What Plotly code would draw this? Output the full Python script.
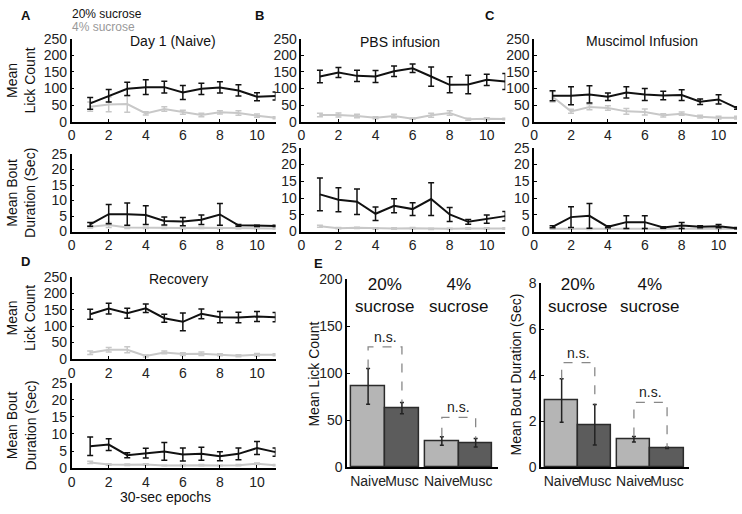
import plotly.graph_objects as go

W, H = 742, 514

epochs = [1, 2, 3, 4, 5, 6, 7, 8, 9, 10, 11]

# A: Day 1 (Naive)
naive_lick_20 = [55, 78, 99, 104, 104, 88, 99, 103, 94, 75, 77]
naive_lick_20_err = [18, 19, 20, 22, 18, 21, 17, 17, 17, 12, 12]
naive_lick_4 = [45, 52, 53, 25, 38, 28, 20, 28, 26, 18, 12]
naive_lick_4_err = [14, 22, 25, 5, 7, 6, 5, 5, 7, 5, 3]
naive_bout_20 = [2.3, 5.6, 5.6, 5.3, 3.4, 3.2, 3.8, 5.5, 2.0, 1.8, 1.8]
naive_bout_20_err = [0.6, 3.1, 3.6, 3.0, 1.3, 1.3, 1.5, 3.5, 0.3, 0.2, 0.2]
naive_bout_4 = [1.5, 2.1, 1.3, 1.2, 1.2, 1.1, 1.2, 1.1, 1.1, 1.1, 1.0]
naive_bout_4_err = [0.4, 0.8, 0.3, 0.2, 0.2, 0.2, 0.2, 0.2, 0.2, 0.2, 0.2]

# B: PBS infusion
pbs_lick_20 = [136, 148, 138, 136, 152, 161, 136, 111, 112, 126, 121]
pbs_lick_20_err = [19, 15, 17, 18, 16, 13, 29, 24, 28, 17, 24]
pbs_lick_4 = [20, 20, 17, 12, 17, 9, 19, 26, 7, 9, 8]
pbs_lick_4_err = [5, 6, 5, 3, 5, 2, 6, 7, 3, 3, 2]
pbs_bout_20 = [11.1, 9.5, 8.9, 5.3, 7.7, 6.7, 9.7, 5.1, 2.9, 3.7, 4.6]
pbs_bout_20_err = [4.9, 3.6, 3.8, 2.0, 2.1, 1.9, 4.9, 2.1, 0.7, 1.2, 1.4]
pbs_bout_4 = [1.6, 1.0, 1.1, 0.9, 0.9, 1.0, 0.8, 0.8, 0.9, 0.9, 0.9]
pbs_bout_4_err = [0.3, 0.2, 0.2, 0.2, 0.2, 0.2, 0.2, 0.2, 0.2, 0.2, 0.2]

# C: Muscimol infusion
musc_lick_20 = [78, 78, 82, 75, 88, 82, 79, 80, 60, 67, 41]
musc_lick_20_err = [15, 27, 26, 11, 17, 18, 13, 16, 8, 14, 4]
musc_lick_4 = [75, 31, 44, 41, 31, 29, 19, 24, 15, 12, 12]
musc_lick_4_err = [16, 6, 8, 7, 9, 9, 5, 5, 4, 4, 4]
musc_bout_20 = [1.4, 4.3, 4.7, 1.4, 2.8, 2.8, 1.2, 1.8, 1.4, 1.6, 1.0]
musc_bout_20_err = [0.3, 3.1, 3.7, 0.3, 1.9, 1.9, 0.2, 0.9, 0.3, 0.5, 0.2]
musc_bout_4 = [0.8, 0.8, 0.7, 0.8, 0.8, 0.8, 0.7, 0.8, 0.8, 0.7, 0.8]
musc_bout_4_err = [0.1, 0.1, 0.1, 0.1, 0.1, 0.1, 0.1, 0.1, 0.1, 0.1, 0.1]

# D: Recovery
rec_lick_20 = [136, 153, 139, 154, 124, 113, 137, 127, 126, 129, 127]
rec_lick_20_err = [15, 16, 15, 13, 12, 27, 15, 17, 16, 15, 14]
rec_lick_4 = [19, 28, 28, 9, 20, 15, 16, 13, 10, 13, 13]
rec_lick_4_err = [5, 7, 9, 3, 4, 4, 5, 3, 3, 4, 3]
rec_bout_20 = [6.4, 6.9, 3.8, 4.4, 4.9, 4.0, 4.2, 3.5, 4.2, 5.9, 4.7]
rec_bout_20_err = [2.7, 1.7, 0.75, 1.4, 2.6, 1.9, 1.9, 1.3, 1.7, 1.9, 1.2]
rec_bout_4 = [1.7, 1.1, 1.0, 1.1, 0.8, 0.9, 0.9, 0.8, 0.9, 1.3, 0.9]
rec_bout_4_err = [0.3, 0.2, 0.2, 0.2, 0.1, 0.2, 0.2, 0.1, 0.2, 0.2, 0.2]

# E: summary bars
bar_labels = ["Naive", "Musc", "Naive", "Musc"]
group_labels = ["20%<br>sucrose", "4%<br>sucrose"]
lick_means = [86, 63, 28, 26]
lick_sems = [19, 6, 4.5, 4.5]
bout_means = [2.9, 1.85, 1.22, 0.84]
bout_sems = [0.95, 0.88, 0.12, 0.03]
lick_bracket = [128, 53]
bout_bracket = [4.55, 2.82]

FONT = "Liberation Sans, Arial, sans-serif"
BLACK = "#111111"
GRAY = "#c8c8c8"
FS = 14


def px_x(p):
    return p / W


def px_y(p):
    return 1 - p / H


fig = go.Figure()

# axis id, x pixel span, y pixel span (zero, top), y max, y step, series
line_panels = [
    (1, (68, 273), (117.3, 31.7), 250, 50, naive_lick_20, naive_lick_20_err, naive_lick_4, naive_lick_4_err),
    (2, (68, 273), (230.7, 150.7), 25, 5, naive_bout_20, naive_bout_20_err, naive_bout_4, naive_bout_4_err),
    (3, (299, 504), (117.3, 31.7), 250, 50, pbs_lick_20, pbs_lick_20_err, pbs_lick_4, pbs_lick_4_err),
    (4, (299, 504), (230.7, 144.3), 25, 5, pbs_bout_20, pbs_bout_20_err, pbs_bout_4, pbs_bout_4_err),
    (5, (533, 737), (117.3, 31.7), 250, 50, musc_lick_20, musc_lick_20_err, musc_lick_4, musc_lick_4_err),
    (6, (533, 737), (230.7, 144.3), 25, 5, musc_bout_20, musc_bout_20_err, musc_bout_4, musc_bout_4_err),
    (7, (68, 273), (362.3, 277.3), 250, 50, rec_lick_20, rec_lick_20_err, rec_lick_4, rec_lick_4_err),
    (8, (68, 273), (475, 386.7), 25, 5, rec_bout_20, rec_bout_20_err, rec_bout_4, rec_bout_4_err),
]

axis_font = dict(family=FONT, size=FS, color="#222")
layout_axes = {}

for ax, xs, ys, ymax, ystep, y20, e20, y4, e4 in line_panels:
    sfx = "" if ax == 1 else str(ax)
    for y, e, col in [(y4, e4, GRAY), (y20, e20, BLACK)]:
        fig.add_trace(go.Scatter(
            x=epochs, y=y, mode="lines",
            line=dict(color=col, width=2),
            error_y=dict(type="data", array=e, color=col, thickness=1.5, width=3),
            xaxis="x" + sfx, yaxis="y" + sfx, showlegend=False, cliponaxis=False,
        ))
    layout_axes["xaxis" + sfx] = dict(
        domain=[px_x(xs[0]), px_x(xs[1])], anchor="y" + sfx, range=[0, 11],
        tickvals=[0, 2, 4, 6, 8, 10], showline=True, linecolor="black", linewidth=1.5,
        ticks="inside", ticklen=3, tickcolor="black", showgrid=False, zeroline=False,
        tickfont=axis_font, tickangle=0,
    )
    layout_axes["yaxis" + sfx] = dict(
        domain=[px_y(ys[0]), px_y(ys[1])], anchor="x" + sfx, range=[0, ymax],
        tickvals=list(range(0, ymax + 1, ystep)), showline=True, linecolor="black",
        linewidth=1.5, ticks="inside", ticklen=3, tickcolor="black", showgrid=False,
        zeroline=False, tickfont=axis_font,
    )

# summary bar panels
bar_x = [1, 2, 3.18, 4.18]
bar_colors = ["#b5b5b5", "#5c5c5c", "#b5b5b5", "#5c5c5c"]
bar_panels = [
    (9, (345, 497), (474, 280), 200, 50, lick_means, lick_sems, lick_bracket),
    (10, (540, 689), (474, 284), 8, 2, bout_means, bout_sems, bout_bracket),
]

annotations = []
for ax, xs, ys, ymax, ystep, means, sems, brackets in bar_panels:
    sfx = str(ax)
    fig.add_trace(go.Bar(
        x=bar_x, y=means, width=1,
        marker=dict(color=bar_colors, line=dict(color="#2b2b2b", width=1.5)),
        error_y=dict(type="data", array=sems, color="#222", thickness=1.5, width=2),
        xaxis="x" + sfx, yaxis="y" + sfx, showlegend=False,
    ))
    for g in range(2):
        i, j = 2 * g, 2 * g + 1
        top = brackets[g]
        fig.add_trace(go.Scatter(
            x=[bar_x[i], bar_x[i], bar_x[j], bar_x[j]],
            y=[means[i] + sems[i], top, top, means[j] + sems[j]],
            mode="lines", line=dict(color="#888", width=1.3, dash="dash"),
            xaxis="x" + sfx, yaxis="y" + sfx, showlegend=False,
        ))
        mid = (bar_x[i] + bar_x[j]) / 2
        annotations.append(dict(
            x=mid, y=top, xref="x" + sfx, yref="y" + sfx, text="n.s.",
            showarrow=False, yanchor="bottom", yshift=0,
            font=dict(family=FONT, size=FS, color="#222"),
        ))
        annotations.append(dict(
            x=mid, y=px_y(297), xref="x" + sfx, yref="paper", text=group_labels[g],
            showarrow=False, yanchor="middle",
            font=dict(family=FONT, size=17, color="#111"),
        ))
    layout_axes["xaxis" + sfx] = dict(
        domain=[px_x(xs[0]), px_x(xs[1])], anchor="y" + sfx, range=[0.38, 4.85],
        tickvals=bar_x, ticktext=bar_labels, showline=True, linecolor="black",
        linewidth=1.5, ticks="", showgrid=False, zeroline=False, tickfont=axis_font,
        tickangle=0,
    )
    layout_axes["yaxis" + sfx] = dict(
        domain=[px_y(ys[0]), px_y(ys[1])], anchor="x" + sfx, range=[0, ymax],
        tickvals=list(range(0, ymax + 1, ystep)), showline=True, linecolor="black",
        linewidth=1.5, ticks="inside", ticklen=3, tickcolor="black", showgrid=False,
        zeroline=False, tickfont=axis_font,
    )


def text(s, x, y, size=FS, color="#111", angle=0, xanchor="center", bold=False):
    annotations.append(dict(
        x=px_x(x), y=px_y(y), xref="paper", yref="paper",
        text="<b>%s</b>" % s if bold else s, showarrow=False,
        xanchor=xanchor, yanchor="middle", textangle=angle,
        font=dict(family=FONT, size=size, color=color),
    ))


# legend + panel letters
text("20% sucrose", 66, 6, size=12, xanchor="left")
text("4% sucrose", 66, 20, size=12, color="#999", xanchor="left")
text("A", 22, 8, size=13, bold=True)
text("B", 257, 8, size=13, bold=True)
text("C", 489, 8, size=13, bold=True)
text("D", 22, 262, size=13, bold=True)
text("E", 316, 264, size=13, bold=True)

# panel titles
text("Day 1 (Naive)", 170, 34)
text("PBS infusion", 398, 35)
text("Muscimol Infusion", 641, 34)
text("Recovery", 175, 280)

# axis titles
text("Mean<br>Lick Count", 17, 75, angle=-90)
text("Mean Bout<br>Duration (Sec)", 17, 191, angle=-90)
text("Mean<br>Lick Count", 17, 320, angle=-90)
text("Mean Bout<br>Duration (Sec)", 17, 431, angle=-90)
text("30-sec epochs", 162, 505)
text("Mean Lick Count", 312, 378, angle=-90)
text("Mean Bout Duration (Sec)", 515, 378, angle=-90)

fig.update_layout(
    width=W, height=H, margin=dict(l=0, r=0, t=0, b=0),
    paper_bgcolor="white", plot_bgcolor="white",
    font=dict(family=FONT, size=FS, color="#222"),
    bargap=0, annotations=annotations, **layout_axes,
)

fig.write_html("out.html", config={"displayModeBar": False},
               post_script="document.body.style.margin='0px';")
